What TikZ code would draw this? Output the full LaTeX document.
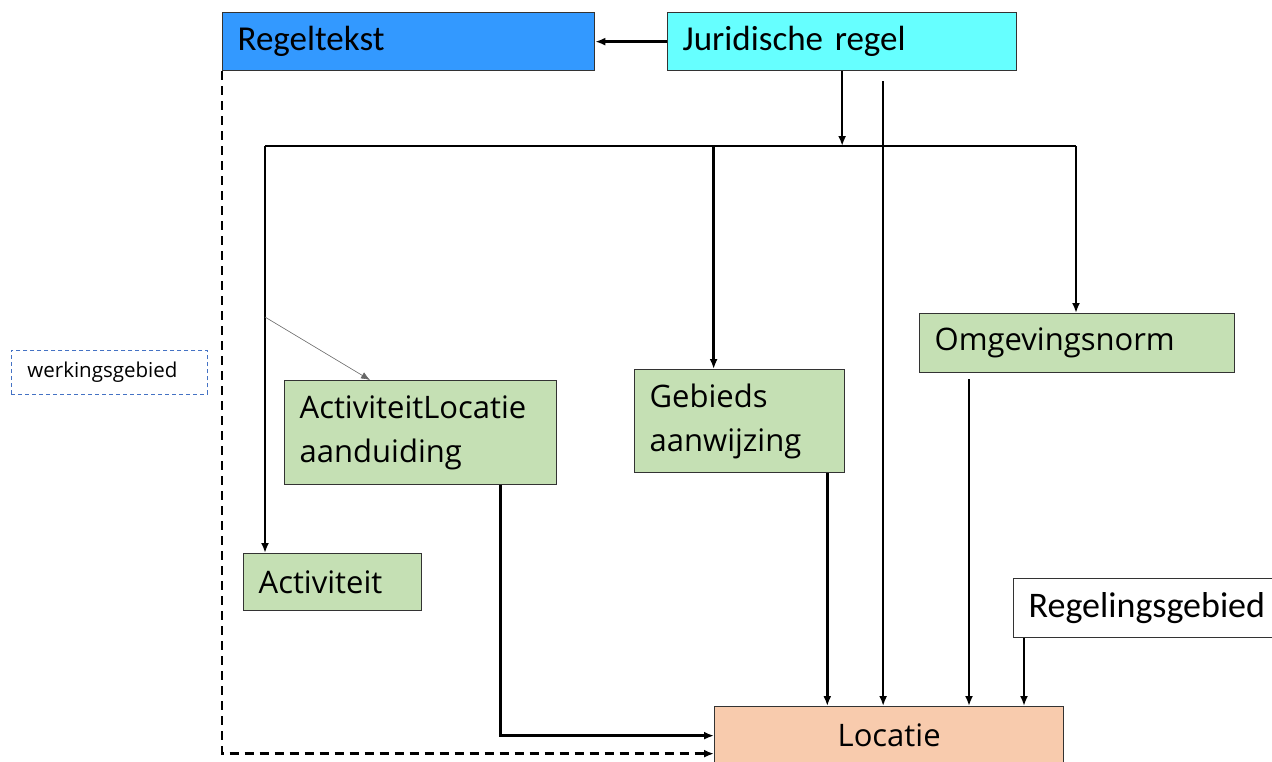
\documentclass[tikz,border=0pt]{standalone}
\usepackage{fontspec}
\setmainfont{Open Sans}
\newfontfamily\calfont{Carlito}
\usetikzlibrary{arrows.meta}

\definecolor{lightgreen}{HTML}{C5E0B4}

\begin{document}
\begin{tikzpicture}[x=1pt, y=-1pt,
          box/.style={rectangle, draw=black!80, line width=1.3pt, anchor=north west,
            inner xsep=15pt, inner ysep=0pt, align=left,
            font=\fontsize{31}{44}\selectfont},
          topbox/.style={box, font=\calfont\fontsize{35}{40}\selectfont},
          greenbox/.style={box, fill=lightgreen},
          arr/.style={-{Latex[length=10pt,width=8pt]}, line width=2.5pt},
          dasharr/.style={arr, line width=2.7pt, dash pattern=on 9pt off 6pt}]

        \useasboundingbox (0,0) rectangle (1272,761);
        \clip (0,0) rectangle (1272,761);

        \node[topbox, fill={rgb,255:red,51;green,153;blue,255},
              text width=342pt, minimum height=58pt] (regel) at (222,12) {Regeltekst};
        \node[topbox, fill={rgb,255:red,102;green,255;blue,255},
              text width=319pt, minimum height=58pt] (jur)   at (667,12) {Juridische regel};

        \node[greenbox, text width=242pt, minimum height=104pt] (alo)  at (284,380)
             {ActiviteitLocatie\\aanduiding};
        \node[greenbox, text width=180pt, minimum height=103pt] (gbd)  at (634,369)
             {Gebieds\\aanwijzing};
        \node[greenbox, text width=285pt, minimum height=59pt]  (omg)  at (919,313)
             {Omgevingsnorm};
        \node[greenbox, text width=148pt, minimum height=57pt]  (act)  at (243,553)
             {Activiteit};

        \node[topbox, fill=white, font=\calfont\fontsize{36}{40}\selectfont,
              text width=270pt, minimum height=59pt] (rgb) at (1013,578)
             {Regelingsgebied};
        \node[box, fill={rgb,255:red,248;green,203;blue,173}, align=center,
              text width=319pt, minimum height=58pt] (loc) at (714,706) {Locatie};

        \node[box, draw={rgb,255:red,68;green,114;blue,196}, line width=0.9pt,
              dash pattern=on 4pt off 3pt, inner xsep=16pt,
              font=\fontsize{20.5}{24}\selectfont,
              text width=164pt, minimum height=44pt] (werk) at (11,350) {werkingsgebied};

        % verdeellijn
        \coordinate (busL) at (265,146);
        \coordinate (busR) at (1076,146);
        \coordinate (tap)  at (265,317);
        \draw[line width=2.6pt] (busL) -- (busR);

        \draw[arr] (jur.west) -- (regel.east);
        \draw[arr] (jur.south) -- (jur.south |- busL);
        \draw[dasharr] (regel.south west) |- ([yshift=-18]loc.west);

        \draw[arr] (busL) -- (busL |- act.north);
        \draw[arr] ([xshift=-26]gbd.north |- busL) -- ([xshift=-26]gbd.north);
        \draw[arr] (busR) -- (busR |- omg.north);
        \draw[-{Latex[length=9pt,width=7pt]}, line width=0.6pt, black!60] (tap)
             -- ([xshift=86]alo.north west);

        \draw[arr] ([xshift=80]alo.south) |- (loc.west);
        \draw[arr] ([xshift=-18]gbd.south east) -- ([xshift=-18]gbd.south east |- loc.north);
        \draw[arr] ([xshift=41,yshift=-10]jur.south) -- ([xshift=41]jur.south |- loc.north);
        \draw[arr] ([xshift=50,yshift=-6]omg.south west) -- ([xshift=50]omg.south west |- loc.north);
        \draw[arr] ([xshift=11]rgb.south west) -- ([xshift=11]rgb.south west |- loc.north);

      \end{tikzpicture}
\end{document}
